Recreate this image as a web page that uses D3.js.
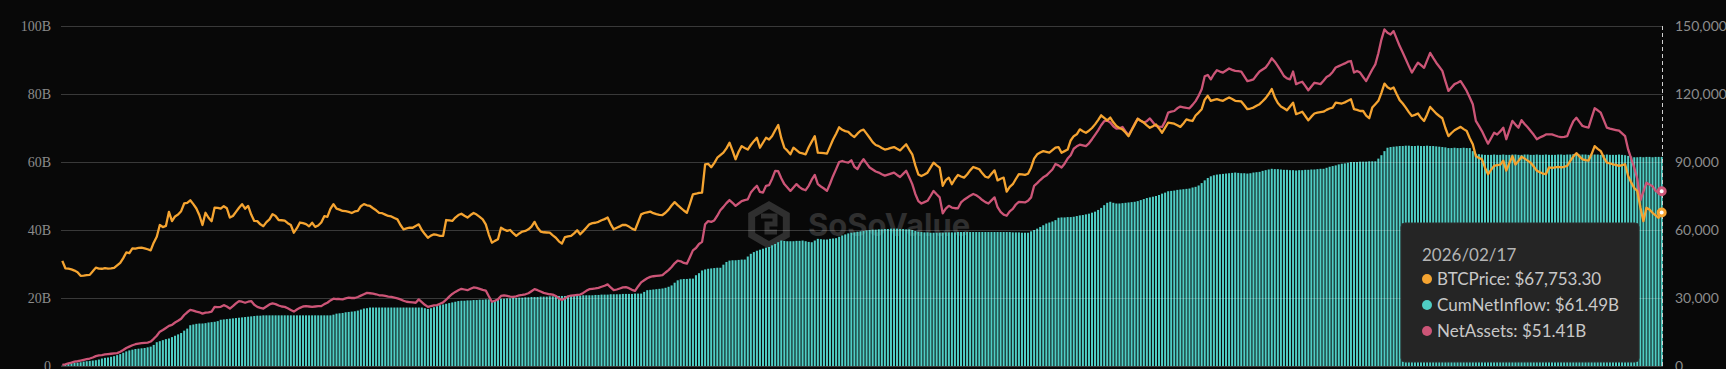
<!DOCTYPE html>
<meta charset="utf-8">
<style>
    body {
        margin: 0;
        background: #080808;
    }

    svg {
        display: block;
    }

    .axis-left text {
        font: 14px "Liberation Serif", serif;
        fill: #8c8c8c;
    }

    .axis-right text {
        font: 14px Lato, sans-serif;
        fill: #8c8c8c;
    }

    .grid line {
        stroke: rgba(255, 255, 255, 0.2);
        shape-rendering: crispEdges;
    }

    .tip text {
        font: 17px Lato, sans-serif;
        fill: #c8c8c8;
    }
</style>
<body>
<script src="https://cdn.jsdelivr.net/npm/d3@7"></script>
<script>
    const width = 1726;
    const height = 369;
    const margin = {top: 26, right: 63, bottom: 3, left: 61};

    // series names, colours (tooltip order)
    const seriesNames = ["BTCPrice", "CumNetInflow", "NetAssets"];
    const seriesColors = ["#f5a431", "#4fcdc4", "#cc5577"];

    const leftTicks = [0, 20, 40, 60, 80, 100];       // billions
    const rightTicks = [0, 30, 60, 90, 120, 150];     // thousands of USD

    const tooltipDate = "2026/02/17";

    // one value per trading day, 2024/01/11 .. 2026/02/17
    // BTC price, thousands of USD
    const btcPriceK = [
        46.4,43.1,43.0,42.6,42.1,41.4,39.8,39.9,40.1,40.2,
        41.8,43.4,43.0,42.9,43.2,43.0,43.1,43.3,44.4,45.5,
        47.6,50.1,49.8,51.9,51.8,52.1,52.2,51.9,51.5,51.0,
        54.4,57.0,62.2,61.3,61.8,68.0,63.9,66.0,66.8,68.3,
        71.7,72.0,73.1,71.4,69.5,66.5,62.2,67.6,65.4,63.9,
        69.9,69.8,69.4,70.5,69.6,65.5,66.2,68.0,69.8,71.4,
        69.4,70.6,66.8,64.0,63.9,62.5,61.7,63.5,64.7,67.0,
        66.2,64.4,64.3,64.1,63.0,62.2,58.8,60.8,63.3,63.0,
        62.6,61.6,63.2,61.4,62.0,63.3,66.1,65.8,69.3,71.4,
        69.4,69.0,68.4,68.3,68.0,67.5,68.2,68.4,70.5,71.4,
        70.9,70.6,69.6,68.7,67.6,67.4,66.8,66.2,66.0,65.3,
        64.7,62.2,60.3,60.7,61.0,61.0,61.8,62.5,60.0,58.2,
        56.6,57.5,58.1,57.8,57.4,57.4,64.4,64.2,64.0,65.5,
        66.6,67.2,66.3,65.5,66.6,67.5,66.8,65.8,64.7,62.5,
        58.0,54.4,55.2,55.9,61.0,60.2,59.6,60.0,58.6,57.4,
        58.5,59.3,59.6,60.3,61.5,63.6,61.0,59.3,59.0,58.9,
        58.8,57.6,56.6,55.0,54.0,56.9,57.2,57.4,58.5,59.9,
        58.1,59.5,61.0,62.5,63.0,63.2,63.6,64.3,64.8,65.5,
        62.6,60.3,61.0,61.6,62.3,62.2,61.5,60.6,60.0,63.4,
        66.9,67.5,67.8,68.1,67.4,67.0,66.7,66.6,67.6,69.0,
        70.8,72.3,71.0,69.8,68.6,67.6,71.5,75.7,76.0,76.4,
        76.5,88.9,89.2,87.7,89.5,91.9,93.0,94.1,96.0,98.5,
        95.0,91.2,94.5,97.0,96.2,95.5,97.5,99.2,100.7,96.3,
        98.5,100.7,99.9,101.5,104.0,106.3,100.5,96.3,95.0,93.4,
        96.3,95.2,94.1,93.8,93.4,96.5,99.0,101.4,94.1,94.0,
        93.9,93.7,96.8,99.9,102.5,105.3,104.2,103.6,103.3,102.0,
        101.0,102.5,103.8,104.3,102.5,100.7,98.8,97.5,97.0,96.2,
        95.5,95.8,96.2,96.6,95.8,95.1,96.5,97.8,95.5,93.4,
        88.5,84.5,83.8,84.5,85.3,87.5,89.7,88.5,87.5,79.5,
        82.0,83.1,80.2,82.5,84.3,83.6,83.1,84.5,86.3,87.8,
        87.3,86.8,85.0,83.5,83.1,84.8,86.3,81.9,82.6,83.1,
        76.9,79.0,80.2,82.5,84.6,84.5,84.3,84.8,87.5,91.5,
        93.4,94.2,94.8,94.5,94.1,95.2,96.3,96.6,94.1,94.8,
        95.5,99.5,101.4,102.2,104.4,103.6,102.9,103.8,105.0,106.6,
        108.5,110.6,109.5,108.4,109.6,107.5,105.9,105.0,104.4,103.0,
        101.4,104.0,106.5,109.1,108.2,107.4,106.2,105.1,105.8,106.6,
        104.8,102.9,105.2,107.4,107.2,106.9,106.2,105.5,107.0,108.8,
        108.4,108.1,110.5,111.8,113.3,117.5,119.2,117.0,117.4,117.7,
        117.3,117.0,117.8,118.5,117.8,117.0,116.9,116.7,115.0,113.3,
        113.6,114.0,114.8,115.5,116.8,118.2,120.0,122.2,118.5,116.0,
        114.5,113.7,112.8,114.5,116.2,111.1,111.6,112.2,110.3,108.4,
        110.0,111.4,111.8,112.0,112.2,113.0,113.6,114.0,116.2,116.0,
        115.8,116.3,117.0,117.7,113.3,113.0,112.5,112.5,110.5,109.3,
        114.0,115.5,117.0,120.5,124.6,123.0,122.2,122.9,120.0,117.3,
        115.8,114.0,112.0,110.3,110.8,111.4,109.5,108.1,111.0,114.3,
        112.8,111.4,110.3,109.3,105.0,101.4,102.8,104.0,104.8,105.5,
        104.5,103.7,100.5,97.8,92.6,91.8,91.2,87.5,84.6,86.5,
        88.3,88.6,88.8,90.6,86.2,89.5,92.6,88.9,90.5,92.3,
        91.5,90.6,89.7,88.0,86.2,85.5,84.9,84.6,87.6,87.4,
        87.6,87.8,87.6,87.9,88.3,90.5,92.4,93.9,92.5,91.2,
        90.8,90.6,93.5,97.0,95.8,94.8,92.0,89.7,89.4,89.0,
        88.7,88.3,88.6,89.0,83.8,81.0,78.5,77.2,70.0,63.9,
        69.8,69.0,67.6,66.5,65.4,67.7533
    ];

    // cumulative net inflow, billions of USD
    const cumNetInflow = [
        0.1,0.4,0.6,0.8,0.9,1.0,1.1,1.3,1.4,1.5,
        1.6,1.7,1.9,2.2,2.4,2.5,2.7,2.9,3.2,3.5,
        3.9,4.3,4.6,4.8,5.0,5.1,5.2,5.3,5.5,5.7,
        6.2,7.0,7.3,7.6,7.9,8.1,8.5,8.9,9.3,9.7,
        10.4,11.0,12.0,12.2,12.4,12.5,12.5,12.6,12.8,12.9,
        13.0,13.2,13.6,13.7,13.8,13.9,14.0,14.1,14.2,14.3,
        14.4,14.5,14.6,14.7,14.8,14.8,14.9,14.9,14.9,14.9,
        14.9,14.9,14.9,14.9,14.9,14.9,14.9,14.9,14.9,14.9,
        14.9,14.9,14.9,14.9,14.9,14.9,14.9,14.9,14.9,15.1,
        15.4,15.5,15.6,15.8,15.9,16.0,16.1,16.3,16.6,16.9,
        17.0,17.2,17.2,17.2,17.2,17.2,17.2,17.2,17.2,17.2,
        17.2,17.2,17.2,17.2,17.2,17.2,17.2,17.2,17.2,17.0,
        16.8,17.0,17.3,17.6,17.9,18.1,18.3,18.5,18.7,18.9,
        19.1,19.2,19.2,19.3,19.3,19.4,19.4,19.5,19.5,19.6,
        19.6,19.0,19.3,19.6,19.8,19.8,19.9,19.9,20.0,20.0,
        20.1,20.1,20.2,20.2,20.3,20.3,20.3,20.4,20.4,20.4,
        20.5,20.5,20.5,20.6,20.6,20.6,20.6,20.7,20.7,20.7,
        20.7,20.8,20.8,20.8,20.8,20.9,20.9,21.0,21.0,21.0,
        21.1,21.1,21.1,21.1,21.2,21.2,21.2,21.2,21.3,21.3,
        21.3,21.8,22.3,22.4,22.5,22.6,22.7,22.8,23.0,23.3,
        23.7,24.5,25.2,25.5,25.6,25.6,25.7,25.7,26.7,27.3,
        28.1,28.4,28.6,28.7,28.8,28.9,28.9,29.8,30.6,31.0,
        31.1,31.1,31.2,31.3,31.3,32.2,33.0,33.5,33.9,34.2,
        34.5,34.8,35.0,35.5,35.9,36.4,36.9,36.8,36.7,36.7,
        36.7,36.8,36.8,36.9,36.7,36.5,36.4,36.9,37.4,37.3,
        37.2,37.2,37.4,37.5,37.6,38.0,38.4,38.7,39.0,39.2,
        39.3,39.5,39.6,39.7,39.9,40.0,40.1,40.1,40.2,40.2,
        40.3,40.3,40.4,40.4,40.4,40.3,40.3,40.2,40.2,40.0,
        39.7,39.5,39.4,39.3,39.3,39.2,39.2,39.2,39.2,39.2,
        39.3,39.3,39.3,39.3,39.4,39.4,39.4,39.4,39.4,39.4,
        39.4,39.4,39.4,39.4,39.4,39.4,39.4,39.4,39.4,39.4,
        39.4,39.4,39.3,39.3,39.3,39.2,39.2,39.2,39.6,40.0,
        40.4,40.9,41.4,41.9,42.2,42.5,42.9,43.6,43.7,43.7,
        43.8,43.8,43.9,44.1,44.3,44.4,44.6,44.8,45.1,45.4,
        45.9,46.5,47.3,48.0,48.3,48.0,47.8,47.8,47.9,48.0,
        48.1,48.2,48.3,48.5,48.8,49.1,49.4,49.6,49.8,50.0,
        50.3,50.7,51.0,51.4,51.5,51.6,51.8,51.9,52.0,52.1,
        52.2,52.5,52.7,53.1,53.8,54.6,55.3,55.8,56.1,56.3,
        56.4,56.5,56.6,56.7,56.8,56.9,56.8,56.7,56.7,56.6,
        56.7,56.9,57.0,57.1,57.4,57.6,57.8,58.0,57.9,57.9,
        57.8,57.7,57.7,57.6,57.6,57.5,57.6,57.6,57.7,57.7,
        57.8,57.8,57.9,58.0,58.0,58.3,58.6,58.8,59.0,59.3,
        59.5,59.6,59.8,60.0,60.0,60.0,60.1,60.1,60.1,60.2,
        60.2,60.2,61.0,62.0,63.2,64.2,64.4,64.5,64.6,64.7,
        64.7,64.8,64.8,64.7,64.7,64.8,64.7,64.7,64.8,64.7,
        64.7,64.6,64.5,64.4,64.3,64.1,64.1,64.2,64.1,64.1,
        64.2,64.1,64.1,63.2,62.4,62.3,62.2,62.1,62.1,62.1,
        62.2,62.1,62.1,62.2,62.1,62.1,62.2,62.2,62.1,62.1,
        62.2,62.2,62.1,62.1,62.2,62.1,62.1,62.2,62.1,62.1,
        62.1,62.2,62.2,62.1,62.2,62.2,62.3,62.2,62.2,62.2,
        62.2,62.1,62.2,62.2,62.2,62.1,62.1,62.2,62.1,62.1,
        62.1,62.2,62.1,62.0,61.8,61.6,61.4,61.4,61.5,61.4,
        61.5,61.5,61.4,61.5,61.5,61.49
    ];

    // net assets, billions of USD
    const netAssets = [
        0.3,0.5,0.8,1.0,1.3,1.4,1.6,1.8,2.0,2.2,
        2.5,2.9,3.1,3.2,3.4,3.5,3.6,3.7,3.8,4.2,
        4.7,5.3,5.7,6.1,6.4,6.6,6.7,6.8,6.9,7.2,
        8.0,8.9,10.1,10.6,11.2,11.8,12.1,12.8,13.3,13.9,
        15.0,15.8,16.5,16.3,16.0,15.8,15.4,15.7,15.8,16.0,
        17.4,17.3,17.4,17.9,17.5,16.9,17.6,18.4,19.1,18.9,
        18.6,18.9,19.1,18.0,17.4,17.1,16.9,17.5,18.1,18.4,
        18.2,17.8,17.5,17.4,17.0,16.5,16.0,16.6,17.1,17.5,
        17.6,17.5,17.4,17.5,17.6,17.6,18.2,18.6,19.3,19.8,
        19.7,19.7,19.6,19.9,20.1,20.0,20.0,20.3,20.7,21.1,
        21.5,21.4,21.3,21.1,20.8,20.8,20.6,20.4,20.3,20.1,
        19.9,19.6,19.2,18.9,18.8,18.7,18.6,19.6,18.8,18.0,
        17.4,17.6,17.8,17.9,18.3,18.7,19.5,20.4,21.2,21.8,
        22.3,22.7,22.5,22.3,22.7,23.1,23.0,22.7,22.4,22.2,
        20.5,18.9,19.2,19.6,20.6,20.8,20.6,20.4,20.3,20.5,
        20.8,20.9,21.1,21.4,22.0,22.6,22.3,21.9,21.5,21.3,
        21.1,21.0,20.6,19.9,19.4,19.9,20.5,20.7,20.8,20.9,
        21.0,21.5,22.1,22.6,22.7,22.8,23.0,23.3,23.6,24.0,
        23.1,22.3,22.5,22.8,23.1,23.2,22.9,22.4,22.1,23.4,
        24.6,25.2,25.8,26.2,26.4,26.5,26.6,26.7,27.5,28.2,
        29.1,30.2,31.0,30.8,30.3,30.1,32.0,34.0,34.7,35.9,
        36.5,41.7,42.6,42.4,42.8,44.2,45.8,46.8,47.9,48.8,
        48.0,47.1,47.8,48.5,48.8,49.0,51.0,52.1,53.0,51.2,
        51.0,53.0,53.2,55.1,57.4,57.3,55.2,53.5,52.5,51.5,
        52.5,53.5,52.6,52.0,51.7,53.0,54.8,56.2,53.5,52.8,
        52.2,51.5,53.6,55.9,57.9,60.0,60.3,60.0,59.8,60.5,
        58.6,57.9,59.6,60.8,59.6,58.4,57.8,57.2,56.9,56.4,
        56.0,56.3,56.6,56.9,56.2,55.6,56.5,57.4,55.5,53.5,
        50.6,48.5,47.8,48.2,48.6,50.0,51.5,50.5,49.6,44.9,
        46.3,47.1,46.6,46.4,46.4,48.1,48.9,49.5,50.1,50.6,
        50.2,49.6,48.8,48.2,47.8,48.7,49.6,46.7,45.3,44.5,
        44.2,45.5,46.2,47.5,48.3,48.2,48.1,48.6,49.6,53.0,
        53.8,54.7,55.5,56.0,56.9,57.8,59.4,59.0,58.4,59.5,
        61.0,62.0,63.9,64.6,65.1,64.9,64.7,65.5,66.7,68.0,
        69.3,70.8,72.0,72.2,71.6,70.5,69.8,69.9,70.3,69.0,
        67.9,69.5,71.2,72.7,72.1,71.6,72.0,72.8,71.7,70.6,
        70.4,70.3,72.0,74.5,74.8,75.0,75.8,76.3,76.1,75.9,
        75.8,76.8,77.9,79.5,81.4,85.2,85.6,84.3,85.8,87.0,
        86.6,86.3,86.9,87.5,87.1,86.8,86.7,86.6,85.2,83.8,
        84.0,84.3,85.5,86.6,87.2,87.8,89.0,90.5,89.5,88.2,
        86.8,85.3,84.6,84.3,86.6,82.9,83.3,83.6,82.4,81.1,
        82.2,83.3,83.1,82.9,83.9,85.0,85.5,86.5,87.8,88.2,
        88.6,89.0,89.5,89.7,86.3,86.8,86.3,85.0,83.8,85.5,
        87.2,88.7,92.0,96.0,99.0,98.0,97.5,98.5,96.3,94.1,
        92.2,90.2,88.2,86.3,87.8,89.2,88.5,87.7,89.9,92.1,
        90.6,89.2,88.0,86.8,83.8,80.9,81.9,82.9,83.3,83.8,
        82.4,80.9,79.0,77.0,72.1,70.6,69.1,67.2,65.4,67.0,
        68.6,68.1,69.0,70.1,66.7,69.4,72.1,71.0,70.1,72.3,
        71.2,70.2,69.1,68.0,66.7,67.2,67.6,68.1,68.1,68.1,
        67.8,67.5,67.3,67.4,67.6,70.0,72.0,73.0,71.8,70.6,
        70.3,70.1,73.0,75.8,75.2,74.5,72.3,70.1,69.8,69.6,
        69.4,69.2,68.4,67.6,63.7,61.0,58.3,55.0,48.7,51.3,
        53.9,53.4,52.9,51.5,51.0,51.41
    ];

    const n = cumNetInflow.length;
    const idx = d3.range(n);
    const last = n - 1;

    const svg = d3.select("body")
        .append("svg")
        .attr("width", width)
        .attr("height", height);

    const plotBottom = height - margin.bottom;
    const plotRight = width - margin.right;

    const x = d3.scaleBand()
        .domain(idx)
        .range([margin.left, plotRight])
        .paddingInner(0.33)
        .paddingOuter(0.1);
    const cx = i => x(i) + x.bandwidth() / 2;

    const yLeft = d3.scaleLinear().domain([0, 100]).range([plotBottom, margin.top]);
    const yRight = d3.scaleLinear().domain([0, 150]).range([plotBottom, margin.top]);

    // watermark
    const wm = svg.append("g").attr("class", "watermark");
    const hexR = 20;
    const hexPts = d3.range(6).map(k => {
        const a = Math.PI / 3 * k - Math.PI / 2;
        return [769 + hexR * Math.cos(a), 225 + hexR * Math.sin(a)];
    });
    wm.append("path")
        .attr("d", d3.line()(hexPts) + "Z")
        .attr("fill", "none")
        .attr("stroke", "#2f2f2f")
        .attr("stroke-width", 7);
    wm.append("path")
        .attr("d", "M761,216 h14 v8 h-8 v8 h10")
        .attr("fill", "none")
        .attr("stroke", "#2f2f2f")
        .attr("stroke-width", 5);
    wm.append("text")
        .attr("x", 808)
        .attr("y", 236)
        .style("font", "bold 31px Inter, sans-serif")
        .style("fill", "#2f2f2f")
        .text("SoSoValue");

    // bars
    svg.append("g")
        .attr("class", "bars")
        .selectAll("rect")
        .data(idx)
        .enter().append("rect")
        .attr("x", i => x(i))
        .attr("width", x.bandwidth())
        .attr("y", i => yLeft(cumNetInflow[i]))
        .attr("height", i => plotBottom - yLeft(cumNetInflow[i]))
        .attr("fill", seriesColors[1]);

    // grid
    svg.append("g")
        .attr("class", "grid")
        .selectAll("line")
        .data(leftTicks)
        .enter().append("line")
        .attr("x1", margin.left)
        .attr("x2", plotRight)
        .attr("y1", d => Math.round(yLeft(d)) + 0.5)
        .attr("y2", d => Math.round(yLeft(d)) + 0.5);

    // axes
    const gLeft = svg.append("g")
        .attr("class", "axis-left")
        .attr("transform", "translate(" + margin.left + ",0)")
        .call(d3.axisLeft(yLeft)
            .tickValues(leftTicks)
            .tickSize(0)
            .tickPadding(10)
            .tickFormat(d => d === 0 ? "0" : d + "B"));
    gLeft.select(".domain").remove();

    const gRight = svg.append("g")
        .attr("class", "axis-right")
        .attr("transform", "translate(" + plotRight + ",0)")
        .call(d3.axisRight(yRight)
            .tickValues(rightTicks)
            .tickSize(0)
            .tickPadding(12)
            .tickFormat(d => d3.format(",")(d * 1000)));
    gRight.select(".domain").remove();

    // lines
    const netLine = d3.line()
        .x(i => cx(i))
        .y(i => yLeft(netAssets[i]));
    const priceLine = d3.line()
        .x(i => cx(i))
        .y(i => yRight(btcPriceK[i]));

    svg.append("path")
        .datum(idx)
        .attr("fill", "none")
        .attr("stroke", seriesColors[2])
        .attr("stroke-width", 2.3)
        .attr("stroke-linejoin", "round")
        .attr("d", netLine);

    svg.append("path")
        .datum(idx)
        .attr("fill", "none")
        .attr("stroke", seriesColors[0])
        .attr("stroke-width", 2.3)
        .attr("stroke-linejoin", "round")
        .attr("d", priceLine);

    // hover crosshair at last day
    svg.append("line")
        .attr("x1", Math.round(cx(last)) + 0.5)
        .attr("x2", Math.round(cx(last)) + 0.5)
        .attr("y1", margin.top)
        .attr("y2", plotBottom)
        .attr("stroke", "#d0d0d0")
        .attr("stroke-width", 1)
        .attr("stroke-dasharray", "4,3");

    const markers = [
        {y: yLeft(netAssets[last]), c: seriesColors[2]},
        {y: yRight(btcPriceK[last]), c: seriesColors[0]}
    ];
    svg.append("g").selectAll("circle")
        .data(markers)
        .enter().append("circle")
        .attr("cx", cx(last))
        .attr("cy", d => d.y)
        .attr("r", 3.5)
        .attr("fill", "#fff")
        .attr("stroke", d => d.c)
        .attr("stroke-width", 3);

    // tooltip
    const tipValues = [
        d3.format("$,.2f")(btcPriceK[last] * 1000),
        "$" + d3.format(".2f")(cumNetInflow[last]) + "B",
        "$" + d3.format(".2f")(netAssets[last]) + "B"
    ];

    const tip = svg.append("g")
        .attr("class", "tip")
        .attr("transform", "translate(1401,223)");

    tip.append("rect")
        .attr("width", 238)
        .attr("height", 139)
        .attr("rx", 4)
        .attr("fill", "#252525")
        .attr("stroke", "#2e2e2e");

    tip.append("text")
        .attr("x", 21)
        .attr("y", 38)
        .style("fill", "#b4b4b4")
        .text(tooltipDate);

    const rows = tip.selectAll(".row")
        .data(seriesNames)
        .enter().append("g")
        .attr("class", "row")
        .attr("transform", (d, i) => "translate(0," + (62 + i * 26) + ")");

    rows.append("circle")
        .attr("cx", 26)
        .attr("cy", -6)
        .attr("r", 5)
        .attr("fill", (d, i) => seriesColors[i]);

    rows.append("text")
        .attr("x", 36)
        .attr("y", 0)
        .text((d, i) => d + ": " + tipValues[i]);
</script>
</body>
</html>
